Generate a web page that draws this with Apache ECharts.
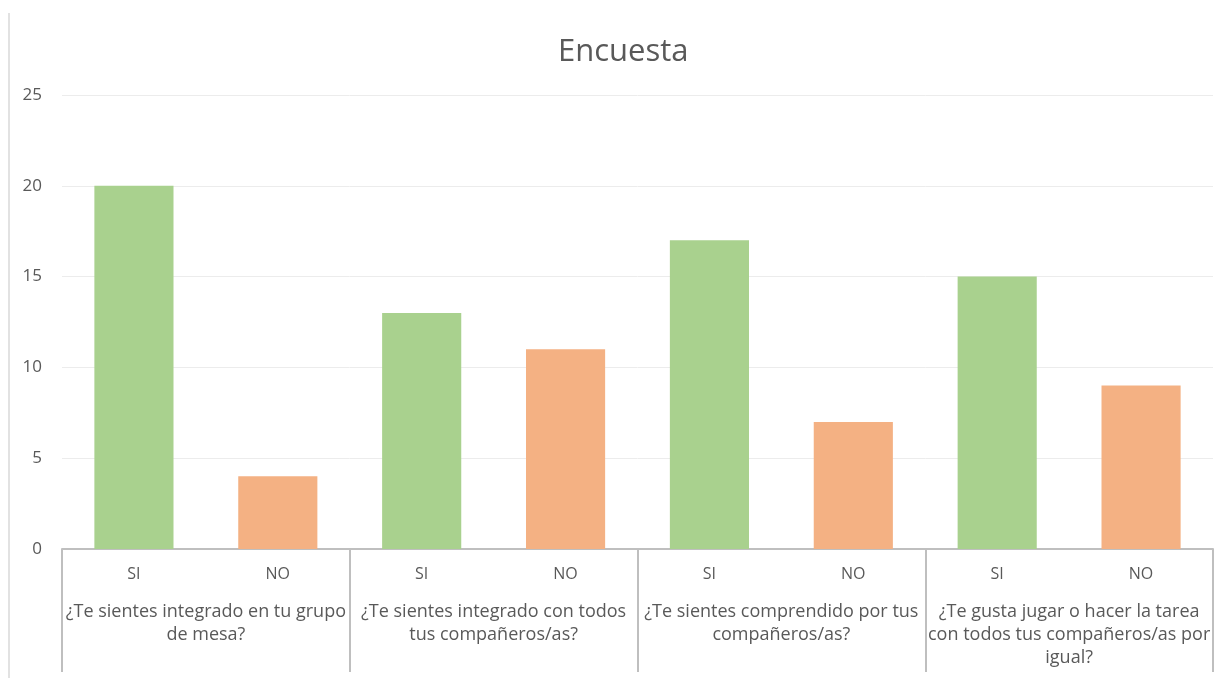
<!DOCTYPE html>
<html>
<head>
<meta charset="utf-8">
<style>
  html, body { margin: 0; padding: 0; background: #fff; }
  #chart { width: 1228px; height: 678px; }
</style>
<script src="https://cdn.jsdelivr.net/npm/echarts@6/dist/echarts.min.js"></script>
</head>
<body>
<div id="chart"></div>
<script>
// preguntas de la encuesta (nivel superior del eje)
var questions = [
    '¿Te sientes integrado en tu grupo\nde mesa?',
    '¿Te sientes integrado con todos\ntus compañeros/as?',
    '¿Te sientes comprendido por tus\ncompañeros/as?',
    '¿Te gusta jugar o hacer la tarea\ncon todos tus compañeros/as por\nigual?'
];
var answers = ['SI', 'NO'];
var siValues = [20, 13, 17, 15];
var noValues = [4, 11, 7, 9];
var yTicks = [0, 5, 10, 15, 20, 25];

var colorSi = '#a9d18e';
var colorNo = '#f4b183';
var textColor = '#595959';
var lineColor = '#bfbfbf';

// categorias de nivel inferior y valores intercalados
var subCats = [];
var barData = [];
questions.forEach(function (q, i) {
    subCats.push(answers[0], answers[1]);
    barData.push({ value: siValues[i], itemStyle: { color: colorSi } });
    barData.push({ value: noValues[i], itemStyle: { color: colorNo } });
});

var chart = echarts.init(document.getElementById('chart'));
chart.setOption({
    animation: false,
    title: {
        text: 'Encuesta',
        left: 553,
        top: 32,
        textStyle: {
            color: textColor,
            fontSize: 31,
            fontWeight: 'normal',
            fontFamily: 'Open Sans'
        }
    },
    grid: {
        left: 62,
        right: 15,
        top: 95,
        bottom: 129
    },
    graphic: [{
        type: 'line',
        shape: { x1: 9, y1: 13, x2: 9, y2: 678 },
        style: { stroke: '#d9d9d9', lineWidth: 1.5 }
    }],
    xAxis: [{
        type: 'category',
        data: subCats,
        position: 'bottom',
        axisLine: { show: true, lineStyle: { color: lineColor, width: 2 } },
        axisTick: { show: false },
        axisLabel: {
            color: textColor,
            fontSize: 16,
            fontFamily: 'Open Sans',
            margin: 17,
            interval: 0
        },
        splitLine: { show: false }
    }, {
        type: 'category',
        data: questions,
        position: 'bottom',
        axisLine: { show: false },
        axisTick: {
            show: true,
            length: 123,
            interval: 0,
            lineStyle: { color: lineColor, width: 2 }
        },
        axisLabel: {
            color: textColor,
            fontSize: 18,
            fontFamily: 'Open Sans',
            lineHeight: 23,
            margin: 51,
            interval: 0,
            align: 'center'
        },
        splitLine: { show: false }
    }],
    yAxis: {
        type: 'value',
        min: yTicks[0],
        max: yTicks[yTicks.length - 1],
        interval: 5,
        axisLine: { show: false },
        axisTick: { show: false },
        axisLabel: {
            color: textColor,
            fontSize: 17,
            fontFamily: 'Open Sans',
            margin: 20
        },
        splitLine: { lineStyle: { color: '#ececec', width: 1 } }
    },
    series: [{
        type: 'bar',
        xAxisIndex: 0,
        barWidth: '55%',
        data: barData
    }]
});
</script>
</body>
</html>
